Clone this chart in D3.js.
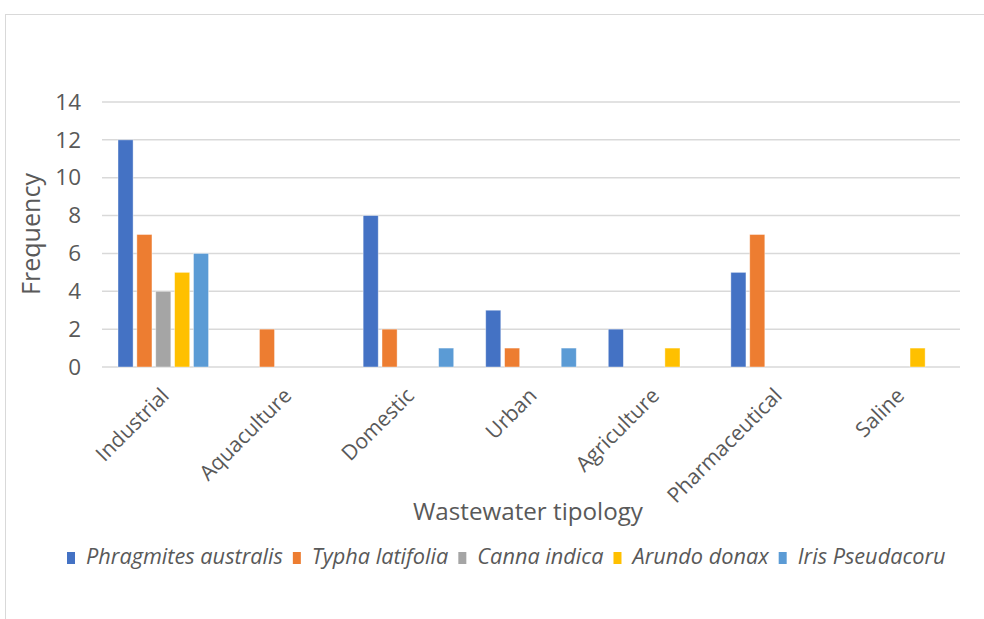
<!DOCTYPE html>
<html>
<head>
<meta charset="utf-8">
<script src="https://cdn.jsdelivr.net/npm/d3@7"></script>
<style>
  html, body { margin: 0; padding: 0; background: #fff; }
  svg { display: block; font-family: "Open Sans", Lato, sans-serif; }
</style>
</head>
<body>
<svg id="chart" width="984" height="619"></svg>
<script>
// Wastewater typologies on the x axis
const categories = ["Industrial", "Aquaculture", "Domestic", "Urban", "Agriculture", "Pharmaceutical", "Saline"];
// Plant species (legend order)
const species = ["Phragmites australis", "Typha latifolia", "Canna indica", "Arundo donax", "Iris Pseudacoru"];
// Frequency per typology for each species
const phragmites = [12, 0, 8, 3, 2, 5, 0];
const typha      = [7, 2, 2, 1, 0, 7, 0];
const canna      = [4, 0, 0, 0, 0, 0, 0];
const arundo     = [5, 0, 0, 0, 1, 0, 1];
const iris       = [6, 0, 1, 1, 0, 0, 0];
const yTicks = [0, 2, 4, 6, 8, 10, 12, 14];
const colors = ["#4472C4", "#ED7D31", "#A5A5A5", "#FFC000", "#5B9BD5"];

const seriesValues = [phragmites, typha, canna, arundo, iris];
const rows = categories.map((c, i) => {
  const r = { category: c };
  species.forEach((s, j) => r[s] = seriesValues[j][i]);
  return r;
});

const svg = d3.select("#chart");
const textColor = "#595959";

// scale a text node's font so it spans a given width; returns the size used
function fitSize(sel, width) {
  sel.style("font-size", "20px");
  const w = sel.node().getComputedTextLength();
  const size = 20 * width / w;
  sel.style("font-size", size + "px");
  return size;
}

// outer frame
svg.append("rect")
  .attr("x", 5.5).attr("y", 14.5)
  .attr("width", 1000).attr("height", 700)
  .attr("fill", "none").attr("stroke", "#d9d9d9").attr("stroke-width", 1);

const plot = { left: 102, right: 960, top: 102, bottom: 367 };

const x0 = d3.scaleBand().domain(categories).range([plot.left, plot.right]).padding(0);
const inner = 16;
const x1 = d3.scaleBand().domain(species)
  .range([inner, x0.bandwidth() - inner]).paddingInner(0.2).paddingOuter(0);
const y = d3.scaleLinear().domain([0, 14]).range([plot.bottom, plot.top]);
const color = d3.scaleOrdinal().domain(species).range(colors);

// gridlines
svg.append("g")
  .selectAll("line").data(yTicks).join("line")
  .attr("x1", plot.left).attr("x2", plot.right)
  .attr("y1", d => y(d)).attr("y2", d => y(d))
  .attr("stroke", "#d9d9d9").attr("stroke-width", 1.5);

// y axis labels
const yAxis = d3.axisLeft(y).tickValues(yTicks).tickSize(0).tickPadding(0);
const gy = svg.append("g").attr("transform", `translate(81,0)`).call(yAxis);
gy.select(".domain").remove();
const yTickSize = fitSize(gy.selectAll("text").filter(d => d === 14), 25);
gy.selectAll("text").attr("fill", textColor).style("font-size", yTickSize + "px")
  .attr("font-family", "'Open Sans', Lato, sans-serif");

// x axis labels, rotated
const xAxis = d3.axisBottom(x0).tickSize(0).tickPadding(0);
const gx = svg.append("g").attr("transform", `translate(0,${plot.bottom})`).call(xAxis);
gx.select(".domain").remove();
const xTickSize = fitSize(gx.selectAll("text").filter(d => d === "Pharmaceutical"), 145);
gx.selectAll("text")
  .attr("fill", textColor).style("font-size", xTickSize + "px")
  .attr("font-family", "'Open Sans', Lato, sans-serif")
  .attr("text-anchor", "end")
  .attr("y", 0).attr("dy", 0)
  .attr("transform", "translate(7,30) rotate(-45)");

// bars
svg.append("g")
  .selectAll("g").data(rows).join("g")
  .attr("transform", d => `translate(${x0(d.category)},0)`)
  .selectAll("rect")
  .data(d => species.map(s => ({ key: s, value: d[s] })).filter(e => e.value > 0))
  .join("rect")
  .attr("x", d => x1(d.key))
  .attr("width", x1.bandwidth())
  .attr("y", d => y(d.value))
  .attr("height", d => y(0) - y(d.value))
  .attr("fill", d => color(d.key))
  .attr("stroke", "#ffffff").attr("stroke-opacity", 0.5).attr("stroke-width", 0.8);

// axis titles
const yTitle = svg.append("text")
  .attr("transform", `translate(40,234) rotate(-90)`)
  .attr("text-anchor", "middle").attr("fill", textColor)
  .text("Frequency");
fitSize(yTitle, 122);

const xTitle = svg.append("text")
  .attr("x", 528).attr("y", 520)
  .attr("text-anchor", "middle").attr("fill", textColor)
  .text("Wastewater tipology");
fitSize(xTitle, 230);

// legend
const legend = svg.append("g").attr("transform", "translate(67,564)");
let legendSize = null;
let lx = 0;
species.forEach((s, i) => {
  const g = legend.append("g").attr("transform", `translate(${lx},0)`);
  g.append("rect").attr("x", 0).attr("y", -12).attr("width", 8).attr("height", 12).attr("fill", colors[i]);
  const t = g.append("text").attr("x", 19).attr("y", 0)
    .attr("fill", textColor).style("font-style", "italic")
    .text(s);
  if (legendSize === null) legendSize = fitSize(t, 197);
  else t.style("font-size", legendSize + "px");
  lx += 19 + t.node().getComputedTextLength() + 10;
});
</script>
</body>
</html>
